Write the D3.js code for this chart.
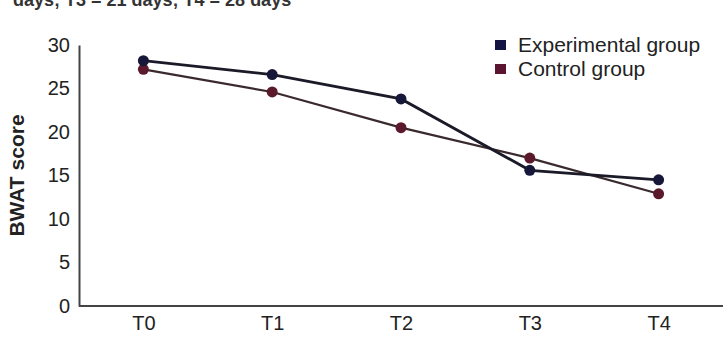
<!DOCTYPE html>
<html>
<head>
<meta charset="utf-8">
<script src="https://cdn.jsdelivr.net/npm/d3@7"></script>
<style>
  html, body { margin: 0; padding: 0; background: #fff; }
  svg { display: block; }
  text { font-family: "Liberation Sans", Arial, Helvetica, sans-serif; }
</style>
</head>
<body>
<svg id="chart" width="726" height="337"></svg>
<script>
const categories = ["T0", "T1", "T2", "T3", "T4"];
const experimental = [28.2, 26.6, 23.8, 15.6, 14.5];
const control = [27.2, 24.6, 20.5, 17.0, 12.9];
const yTicks = [0, 5, 10, 15, 20, 25, 30];
const seriesNames = ["Experimental group", "Control group"];
const caption = "days; T3 = 21 days; T4 = 28 days";

const svg = d3.select("#chart");
const W = 726, H = 337;
const m = { left: 79, right: 3, top: 45, bottom: 31 };

const x = d3.scalePoint().domain(categories).range([m.left, W - m.right]).padding(0.5);
const y = d3.scaleLinear().domain([0, 30]).range([H - m.bottom, m.top]);

// caption (cut off at top, as in the source image)
svg.append("text")
  .attr("x", 13).attr("y", 6)
  .attr("font-size", 18).attr("font-weight", "bold").attr("fill", "#333")
  .text(caption);

// y axis
const yAxis = svg.append("g")
  .attr("transform", `translate(${m.left},0)`)
  .call(d3.axisLeft(y).tickValues(yTicks).tickSize(0).tickPadding(9));
yAxis.select(".domain").attr("stroke", "#444").attr("stroke-width", 2);
yAxis.selectAll("text").attr("font-size", 20).attr("fill", "#222")
  .attr("font-family", "Liberation Sans, Arial, sans-serif");

// x axis
const xAxis = svg.append("g")
  .attr("transform", `translate(0,${y(0)})`)
  .call(d3.axisBottom(x).tickSize(0).tickPadding(10));
xAxis.select(".domain").attr("stroke", "#444").attr("stroke-width", 2)
  .attr("d", `M${m.left},0H${W - m.right}`);
xAxis.selectAll("text").attr("font-size", 20).attr("fill", "#222")
  .attr("font-family", "Liberation Sans, Arial, sans-serif");

// y title
svg.append("text")
  .attr("transform", `translate(24,${(y(0) + y(30)) / 2}) rotate(-90)`)
  .attr("text-anchor", "middle")
  .attr("font-size", 21).attr("font-weight", "bold").attr("fill", "#222")
  .text("BWAT score");

const series = [
  { name: seriesNames[0], values: experimental, line: "#1a1a28", dot: "#17173a", key: "#141442" },
  { name: seriesNames[1], values: control, line: "#3a2a2d", dot: "#5a1a2c", key: "#5c1530" }
];

const line = d3.line().x((d, i) => x(categories[i])).y(d => y(d));

// draw control first, experimental on top
[series[1], series[0]].forEach(s => {
  svg.append("path")
    .datum(s.values)
    .attr("fill", "none")
    .attr("stroke", s.line)
    .attr("stroke-width", s === series[0] ? 2.8 : 2.2)
    .attr("d", line);
  svg.selectAll(null)
    .data(s.values)
    .enter().append("circle")
    .attr("cx", (d, i) => x(categories[i]))
    .attr("cy", d => y(d))
    .attr("r", 5.5)
    .attr("fill", s.dot);
});

// legend
const lg = svg.append("g").attr("transform", "translate(495,40)");
series.forEach((s, i) => {
  const g = lg.append("g").attr("transform", `translate(0,${i * 24})`);
  g.append("rect").attr("width", 11).attr("height", 10).attr("fill", s.key);
  g.append("text").attr("x", 23).attr("y", 12)
    .attr("font-size", 21).attr("fill", "#222").text(s.name);
});
</script>
</body>
</html>
